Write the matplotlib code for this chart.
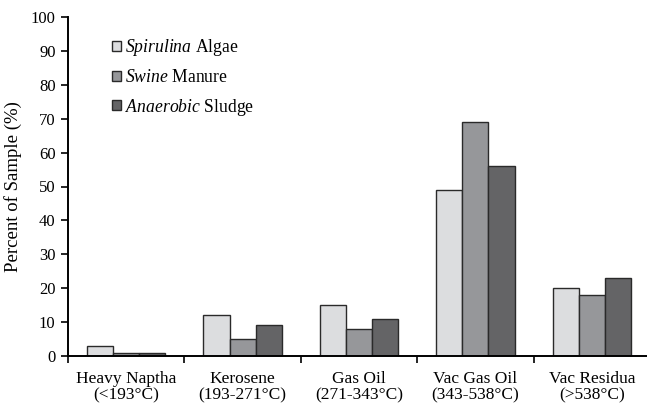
import numpy as np
import matplotlib.pyplot as plt

plt.rcParams['font.family'] = 'Liberation Serif'
plt.rcParams['mathtext.fontset'] = 'custom'
plt.rcParams['mathtext.rm'] = 'Liberation Serif'
plt.rcParams['mathtext.it'] = 'Liberation Serif:italic'

categories = ["Heavy Naptha\n(<193°C)", "Kerosene\n(193-271°C)", "Gas Oil\n(271-343°C)",
              "Vac Gas Oil\n(343-538°C)", "Vac Residua\n(>538°C)"]
spirulina = [3, 12, 15, 49, 20]
swine = [1, 5, 8, 69, 18]
sludge = [1, 9, 11, 56, 23]

series = [
    (spirulina, r"$\mathit{Spirulina}$ Algae", "#dcdddf"),
    (swine, r"$\mathit{Swine}$ Manure", "#96979a"),
    (sludge, r"$\mathit{Anaerobic}$ Sludge", "#646466"),
]

fig = plt.figure(figsize=(6.47, 4.05), dpi=100)
ax = fig.add_axes([68 / 647, 49 / 405, 582 / 647, 339 / 405])

x = np.arange(len(categories))
w = 0.225
for i, (vals, label, color) in enumerate(series):
    ax.bar(x + (i - 1) * w, vals, w, color=color, edgecolor="#2a2a2a",
           linewidth=1.0, label=label)

ax.set_xlim(-0.5, len(categories) - 0.5)
ax.set_ylim(0, 100)
ax.set_yticks(np.arange(0, 101, 10))
ax.set_xticks(x)
ax.set_xticklabels(categories, fontsize=12.5, linespacing=1.1)
ax.set_xticks(np.arange(-0.5, len(categories), 1), minor=True)
ax.tick_params(axis="x", which="major", length=0, pad=10.5)
ax.tick_params(axis="x", which="minor", length=5, width=1.2, direction="out")
ax.tick_params(axis="y", length=5, width=1.2, labelsize=12, pad=4)
ax.set_ylabel("Percent of Sample (%)", fontsize=13.5)
ax.yaxis.set_label_coords(-0.079, 0.5)

for s in ["top", "right"]:
    ax.spines[s].set_visible(False)
for s in ["left", "bottom"]:
    ax.spines[s].set_linewidth(1.4)

ax.legend(loc="upper left", bbox_to_anchor=(0.0756, 0.94), frameon=False,
          fontsize=12.7, handlelength=0.5, handleheight=0.5, borderpad=0,
          borderaxespad=0, handletextpad=0.25, labelspacing=0.6)

fig.savefig("out.png", dpi=100)
